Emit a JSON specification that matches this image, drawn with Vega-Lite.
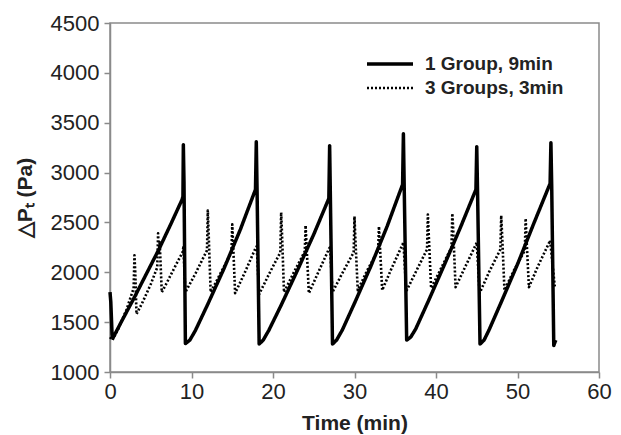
{
  "$schema": "https://vega.github.io/schema/vega-lite/v6.json",
  "autosize": {"type": "none"},
  "width": 489,
  "height": 349,
  "padding": {"left": 110, "top": 23, "right": 22, "bottom": 63},
  "background": "white",
  "config": {
    "view": {"stroke": "#8a8a8a", "strokeWidth": 1.5},
    "font": "Liberation Sans",
    "axis": {
      "grid": false,
      "labelFlush": false,
      "domainColor": "#8a8a8a",
      "domainWidth": 1.5,
      "tickColor": "#8a8a8a",
      "tickWidth": 1.5,
      "tickSize": 6,
      "labelFont": "Liberation Sans",
      "labelFontSize": 22,
      "labelColor": "#222222",
      "format": "d",
      "titleFont": "Liberation Sans",
      "titleFontSize": 21,
      "titleFontWeight": "bold",
      "titleColor": "#222222"
    }
  },
  "data": {
    "values": [
      {"s": "1 Group, 9min", "t": 0, "p": 1800},
      {"s": "1 Group, 9min", "t": 0.1, "p": 1700},
      {"s": "1 Group, 9min", "t": 0.25, "p": 1380},
      {"s": "1 Group, 9min", "t": 0.35, "p": 1340},
      {"s": "1 Group, 9min", "t": 1.5, "p": 1520},
      {"s": "1 Group, 9min", "t": 3, "p": 1750},
      {"s": "1 Group, 9min", "t": 4.5, "p": 1990},
      {"s": "1 Group, 9min", "t": 6, "p": 2230},
      {"s": "1 Group, 9min", "t": 7.5, "p": 2490},
      {"s": "1 Group, 9min", "t": 8.85, "p": 2730},
      {"s": "1 Group, 9min", "t": 8.95, "p": 2760},
      {"s": "1 Group, 9min", "t": 9.0, "p": 3280},
      {"s": "1 Group, 9min", "t": 9.08, "p": 2900},
      {"s": "1 Group, 9min", "t": 9.25, "p": 1285},
      {"s": "1 Group, 9min", "t": 9.8, "p": 1320},
      {"s": "1 Group, 9min", "t": 10.5, "p": 1420},
      {"s": "1 Group, 9min", "t": 12, "p": 1680},
      {"s": "1 Group, 9min", "t": 14, "p": 2040},
      {"s": "1 Group, 9min", "t": 16, "p": 2430},
      {"s": "1 Group, 9min", "t": 17.85, "p": 2830},
      {"s": "1 Group, 9min", "t": 17.95, "p": 3310},
      {"s": "1 Group, 9min", "t": 18.05, "p": 2800},
      {"s": "1 Group, 9min", "t": 18.3, "p": 1280},
      {"s": "1 Group, 9min", "t": 18.8, "p": 1320},
      {"s": "1 Group, 9min", "t": 19.5, "p": 1420},
      {"s": "1 Group, 9min", "t": 21, "p": 1670},
      {"s": "1 Group, 9min", "t": 23, "p": 2020},
      {"s": "1 Group, 9min", "t": 25, "p": 2380},
      {"s": "1 Group, 9min", "t": 26.85, "p": 2740},
      {"s": "1 Group, 9min", "t": 26.95, "p": 3270},
      {"s": "1 Group, 9min", "t": 27.05, "p": 2700},
      {"s": "1 Group, 9min", "t": 27.3, "p": 1280},
      {"s": "1 Group, 9min", "t": 27.8, "p": 1320},
      {"s": "1 Group, 9min", "t": 28.5, "p": 1420},
      {"s": "1 Group, 9min", "t": 30, "p": 1690},
      {"s": "1 Group, 9min", "t": 32, "p": 2060},
      {"s": "1 Group, 9min", "t": 34, "p": 2460},
      {"s": "1 Group, 9min", "t": 35.9, "p": 2880},
      {"s": "1 Group, 9min", "t": 36.0, "p": 3390},
      {"s": "1 Group, 9min", "t": 36.1, "p": 2850},
      {"s": "1 Group, 9min", "t": 36.4, "p": 1320},
      {"s": "1 Group, 9min", "t": 36.9, "p": 1350},
      {"s": "1 Group, 9min", "t": 37.5, "p": 1430},
      {"s": "1 Group, 9min", "t": 39, "p": 1700},
      {"s": "1 Group, 9min", "t": 41, "p": 2070},
      {"s": "1 Group, 9min", "t": 43, "p": 2450},
      {"s": "1 Group, 9min", "t": 44.9, "p": 2830},
      {"s": "1 Group, 9min", "t": 45.0, "p": 3260},
      {"s": "1 Group, 9min", "t": 45.1, "p": 2800},
      {"s": "1 Group, 9min", "t": 45.4, "p": 1280},
      {"s": "1 Group, 9min", "t": 45.9, "p": 1320},
      {"s": "1 Group, 9min", "t": 46.5, "p": 1420},
      {"s": "1 Group, 9min", "t": 48, "p": 1700},
      {"s": "1 Group, 9min", "t": 50, "p": 2080},
      {"s": "1 Group, 9min", "t": 52, "p": 2490},
      {"s": "1 Group, 9min", "t": 54.0, "p": 2890},
      {"s": "1 Group, 9min", "t": 54.1, "p": 3300},
      {"s": "1 Group, 9min", "t": 54.2, "p": 2850},
      {"s": "1 Group, 9min", "t": 54.45, "p": 1265},
      {"s": "1 Group, 9min", "t": 54.6, "p": 1300},
      {"s": "1 Group, 9min", "t": 54.7, "p": 1320},
      {"s": "3 Groups, 3min", "t": 0, "p": 1350},
      {"s": "3 Groups, 3min", "t": 0.3, "p": 1320},
      {"s": "3 Groups, 3min", "t": 1, "p": 1430},
      {"s": "3 Groups, 3min", "t": 2, "p": 1620},
      {"s": "3 Groups, 3min", "t": 2.9, "p": 1840},
      {"s": "3 Groups, 3min", "t": 3.0, "p": 2170},
      {"s": "3 Groups, 3min", "t": 3.1, "p": 2000},
      {"s": "3 Groups, 3min", "t": 3.25, "p": 1580},
      {"s": "3 Groups, 3min", "t": 4, "p": 1700},
      {"s": "3 Groups, 3min", "t": 5, "p": 1880},
      {"s": "3 Groups, 3min", "t": 5.8, "p": 2050},
      {"s": "3 Groups, 3min", "t": 5.9, "p": 2390},
      {"s": "3 Groups, 3min", "t": 6.0, "p": 2200},
      {"s": "3 Groups, 3min", "t": 6.1, "p": 2300},
      {"s": "3 Groups, 3min", "t": 6.35, "p": 1800},
      {"s": "3 Groups, 3min", "t": 7, "p": 1900},
      {"s": "3 Groups, 3min", "t": 8, "p": 2060},
      {"s": "3 Groups, 3min", "t": 8.9, "p": 2200},
      {"s": "3 Groups, 3min", "t": 9.0, "p": 2250},
      {"s": "3 Groups, 3min", "t": 9.25, "p": 1800},
      {"s": "3 Groups, 3min", "t": 10.5, "p": 1990},
      {"s": "3 Groups, 3min", "t": 11.9, "p": 2220},
      {"s": "3 Groups, 3min", "t": 12.0, "p": 2620},
      {"s": "3 Groups, 3min", "t": 12.1, "p": 2400},
      {"s": "3 Groups, 3min", "t": 12.35, "p": 1800},
      {"s": "3 Groups, 3min", "t": 13.5, "p": 1980},
      {"s": "3 Groups, 3min", "t": 14.9, "p": 2200},
      {"s": "3 Groups, 3min", "t": 15.0, "p": 2480},
      {"s": "3 Groups, 3min", "t": 15.1, "p": 2300},
      {"s": "3 Groups, 3min", "t": 15.35, "p": 1790},
      {"s": "3 Groups, 3min", "t": 16.5, "p": 1990},
      {"s": "3 Groups, 3min", "t": 17.9, "p": 2250},
      {"s": "3 Groups, 3min", "t": 18.0, "p": 2260},
      {"s": "3 Groups, 3min", "t": 18.3, "p": 1780},
      {"s": "3 Groups, 3min", "t": 19.5, "p": 1980},
      {"s": "3 Groups, 3min", "t": 20.9, "p": 2200},
      {"s": "3 Groups, 3min", "t": 21.0, "p": 2600},
      {"s": "3 Groups, 3min", "t": 21.1, "p": 2400},
      {"s": "3 Groups, 3min", "t": 21.35, "p": 1800},
      {"s": "3 Groups, 3min", "t": 22.5, "p": 1990},
      {"s": "3 Groups, 3min", "t": 23.9, "p": 2210},
      {"s": "3 Groups, 3min", "t": 24.0, "p": 2470},
      {"s": "3 Groups, 3min", "t": 24.1, "p": 2300},
      {"s": "3 Groups, 3min", "t": 24.4, "p": 1790},
      {"s": "3 Groups, 3min", "t": 25.5, "p": 1990},
      {"s": "3 Groups, 3min", "t": 26.9, "p": 2240},
      {"s": "3 Groups, 3min", "t": 27.0, "p": 2250},
      {"s": "3 Groups, 3min", "t": 27.3, "p": 1800},
      {"s": "3 Groups, 3min", "t": 28.5, "p": 1990},
      {"s": "3 Groups, 3min", "t": 29.9, "p": 2200},
      {"s": "3 Groups, 3min", "t": 30.0, "p": 2560},
      {"s": "3 Groups, 3min", "t": 30.1, "p": 2350},
      {"s": "3 Groups, 3min", "t": 30.4, "p": 1820},
      {"s": "3 Groups, 3min", "t": 31.5, "p": 2010},
      {"s": "3 Groups, 3min", "t": 32.9, "p": 2220},
      {"s": "3 Groups, 3min", "t": 33.0, "p": 2460},
      {"s": "3 Groups, 3min", "t": 33.1, "p": 2300},
      {"s": "3 Groups, 3min", "t": 33.4, "p": 1820},
      {"s": "3 Groups, 3min", "t": 34.5, "p": 2030},
      {"s": "3 Groups, 3min", "t": 35.9, "p": 2280},
      {"s": "3 Groups, 3min", "t": 36.0, "p": 2300},
      {"s": "3 Groups, 3min", "t": 36.35, "p": 1810},
      {"s": "3 Groups, 3min", "t": 37.5, "p": 2000},
      {"s": "3 Groups, 3min", "t": 38.9, "p": 2230},
      {"s": "3 Groups, 3min", "t": 39.0, "p": 2580},
      {"s": "3 Groups, 3min", "t": 39.1, "p": 2400},
      {"s": "3 Groups, 3min", "t": 39.4, "p": 1840},
      {"s": "3 Groups, 3min", "t": 40.5, "p": 2020},
      {"s": "3 Groups, 3min", "t": 41.9, "p": 2250},
      {"s": "3 Groups, 3min", "t": 42.0, "p": 2590},
      {"s": "3 Groups, 3min", "t": 42.1, "p": 2450},
      {"s": "3 Groups, 3min", "t": 42.4, "p": 1850},
      {"s": "3 Groups, 3min", "t": 43.5, "p": 2040},
      {"s": "3 Groups, 3min", "t": 44.9, "p": 2280},
      {"s": "3 Groups, 3min", "t": 45.0, "p": 2300},
      {"s": "3 Groups, 3min", "t": 45.35, "p": 1790},
      {"s": "3 Groups, 3min", "t": 46.5, "p": 2000},
      {"s": "3 Groups, 3min", "t": 47.9, "p": 2230},
      {"s": "3 Groups, 3min", "t": 48.0, "p": 2570},
      {"s": "3 Groups, 3min", "t": 48.1, "p": 2400},
      {"s": "3 Groups, 3min", "t": 48.4, "p": 1820},
      {"s": "3 Groups, 3min", "t": 49.5, "p": 2010},
      {"s": "3 Groups, 3min", "t": 50.9, "p": 2220},
      {"s": "3 Groups, 3min", "t": 51.0, "p": 2540},
      {"s": "3 Groups, 3min", "t": 51.1, "p": 2350},
      {"s": "3 Groups, 3min", "t": 51.4, "p": 1850},
      {"s": "3 Groups, 3min", "t": 52.5, "p": 2060},
      {"s": "3 Groups, 3min", "t": 53.9, "p": 2300},
      {"s": "3 Groups, 3min", "t": 54.0, "p": 2320},
      {"s": "3 Groups, 3min", "t": 54.6, "p": 1840}
    ]
  },
  "mark": {"type": "line", "color": "black", "strokeJoin": "round"},
  "encoding": {
    "x": {
      "field": "t",
      "type": "quantitative",
      "scale": {"domain": [0, 60], "nice": false, "zero": false},
      "axis": {
        "values": [0, 10, 20, 30, 40, 50, 60],
        "title": "Time (min)",
        "labelPadding": 3,
        "titleX": 244.5,
        "titleY": 57,
        "titleBaseline": "alphabetic",
        "titleAnchor": "middle"
      }
    },
    "y": {
      "field": "p",
      "type": "quantitative",
      "scale": {"domain": [1000, 4500], "nice": false, "zero": false},
      "axis": {
        "values": [1000, 1500, 2000, 2500, 3000, 3500, 4000, 4500],
        "title": "△Pₜ (Pa)",
        "labelPadding": 5,
        "titleX": -79,
        "titleY": 174.5,
        "titleAngle": -90,
        "titleBaseline": "alphabetic",
        "titleAlign": "center"
      }
    },
    "strokeDash": {
      "field": "s",
      "type": "nominal",
      "scale": {"domain": ["1 Group, 9min", "3 Groups, 3min"], "range": [[1, 0], [2, 2]]},
      "legend": {
        "title": null,
        "orient": "none",
        "legendX": 255,
        "legendY": 29,
        "symbolType": "stroke",
        "symbolSize": 2116,
        "symbolStrokeWidth": 3.2,
        "symbolStrokeColor": "black",
        "clipHeight": 24,
        "rowPadding": 0,
        "labelOffset": 10,
        "labelFont": "Liberation Sans",
        "labelFontSize": 19,
        "labelFontWeight": "bold",
        "labelColor": "#222222"
      }
    },
    "strokeWidth": {
      "field": "s",
      "type": "nominal",
      "scale": {"domain": ["1 Group, 9min", "3 Groups, 3min"], "range": [3.5, 2.6]},
      "legend": null
    }
  }
}
